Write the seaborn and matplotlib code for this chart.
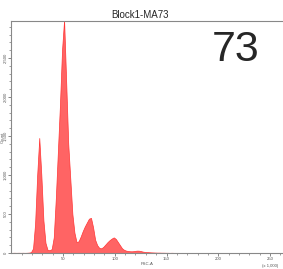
import numpy as np
import pandas as pd
import matplotlib
matplotlib.use("Agg")
import matplotlib.pyplot as plt
import seaborn as sns

# FSC-A histogram (x 1,000), bin width 2, counts per bin
bin_centers = list(range(1, 203, 2))
counts = [
    2, 3, 2, 3, 2, 3, 2, 3, 5, 10,           # 1..19
    60, 380, 1000, 1475, 1000, 420, 130, 40, 35, 50,   # 21..39
    200, 700, 1300, 1900, 2600, 2990, 2200, 1400, 950, 500,  # 41..59
    260, 140, 150, 210, 280, 340, 390, 440, 450, 330,   # 61..79
    170, 100, 65, 60, 80, 110, 140, 165, 185, 200,      # 81..99
    180, 140, 100, 60, 40, 30, 25, 22, 22, 25,          # 101..119
    30, 30, 25, 18, 14, 12, 10, 8, 7, 6,                # 121..139
    5, 5, 4, 4, 3, 3, 2, 3, 2, 2,                       # 141..159
    2, 1, 2, 1, 1, 2, 1, 1, 1, 2,                       # 161..179
    1, 1, 1, 1, 2, 1, 1, 1, 1, 1,                       # 181..199
    1,                                                  # 201
]
x_ticks = [50, 100, 150, 200, 250]
y_ticks = [0, 500, 1000, 1500, 2000, 2500]
y_tick_labels = ["0", "500", "1,000", "1,500", "2,000", "2,500"]

df = pd.DataFrame({"fsc": bin_centers, "count": counts})

sns.set_style("ticks")
plt.rcParams["font.family"] = ["Liberation Sans", "DejaVu Sans"]

fig = plt.figure(figsize=(2.83, 2.69), dpi=100)
ax = fig.add_axes([0.040, 0.0595, 0.958, 0.8625])

sns.histplot(data=df, x="fsc", weights="count", binwidth=2, binrange=(0, 202),
             element="poly", fill=True, color="#ff6464", alpha=1.0,
             edgecolor="#ff3434", linewidth=0.5, ax=ax)

ax.set_xlim(0, 262)
ax.set_ylim(0, 2975)
ax.set_xticks(x_ticks)
ax.set_xticklabels([str(t) for t in x_ticks])
ax.set_xticks(np.arange(10, 262, 10), minor=True)
ax.set_yticks(y_ticks)
ax.set_yticklabels(y_tick_labels, rotation=90, va="center")
ax.set_yticks(np.arange(100, 2975, 100), minor=True)

ax.tick_params(axis="both", which="major", length=2.2, width=0.5, colors="#555555",
               labelsize=3.1, pad=0.5)
ax.tick_params(axis="both", which="minor", length=1.4, width=0.4, colors="#555555")
for s in ax.spines.values():
    s.set_color("#888888")
    s.set_linewidth(0.8)
ax.spines["right"].set_visible(False)

ax.set_xlabel("FSC-A", fontsize=3.1, color="#555555", labelpad=1)
ax.set_ylabel("Count", fontsize=3.1, color="#555555")
ax.yaxis.set_label_coords(-0.026, 0.5)
fig.text(0.955, 0.004, "(x 1,000)", fontsize=3.1, color="#555555",
         ha="center", va="bottom")

fig.text(0.495, 0.944, "Block1-MA73", fontsize=7, ha="center", va="center")
fig.text(0.833, 0.815, "73", fontsize=31, ha="center", va="center")

fig.savefig("out.png", dpi=100)
